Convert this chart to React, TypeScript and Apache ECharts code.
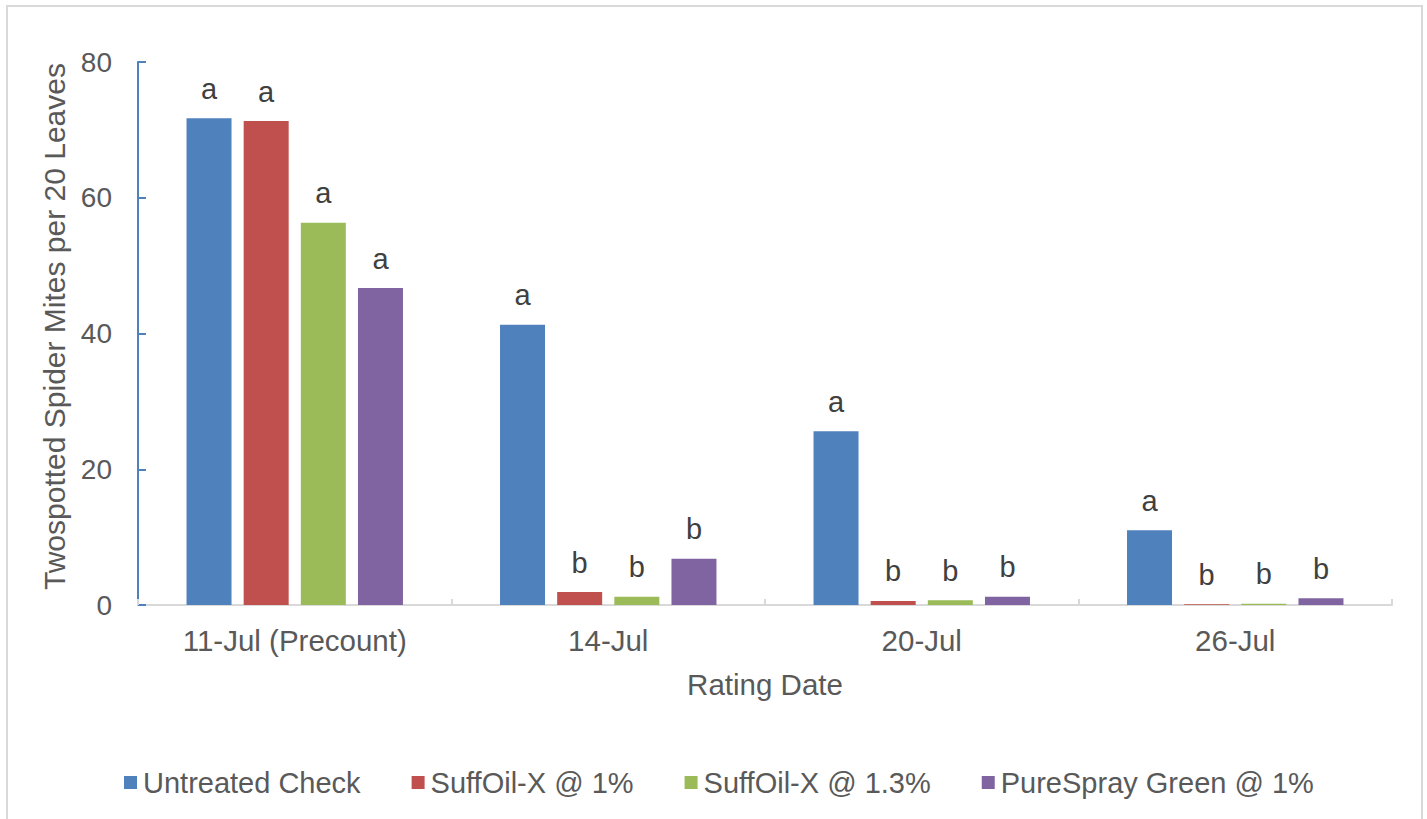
import React, { useEffect, useRef } from "react";
import * as echarts from "echarts";

const categories = ["11-Jul (Precount)", "14-Jul", "20-Jul", "26-Jul"];
const seriesNames = ["Untreated Check", "SuffOil-X @ 1%", "SuffOil-X @ 1.3%", "PureSpray Green @ 1%"];
const untreated = [71.7, 41.3, 25.6, 11.0];
const suff1 = [71.3, 1.9, 0.6, 0.1];
const suff13 = [56.3, 1.2, 0.7, 0.2];
const pure = [46.7, 6.8, 1.2, 1.0];
const lettersUntreated = ["a", "a", "a", "a"];
const lettersSuff1 = ["a", "b", "b", "b"];
const lettersSuff13 = ["a", "b", "b", "b"];
const lettersPure = ["a", "b", "b", "b"];
const colors = ["#4F81BD", "#C0504D", "#9BBB59", "#8064A2"];

const FONT = "'Liberation Sans', Arial, sans-serif";

export default function App() {
  const ref = useRef<HTMLDivElement>(null);
  useEffect(() => {
    if (!ref.current) return;
    const chart = echarts.init(ref.current, null, { renderer: "svg" });
    const values = [untreated, suff1, suff13, pure];
    const letters = [lettersUntreated, lettersSuff1, lettersSuff13, lettersPure];
    chart.setOption({
      animation: false,
      textStyle: { fontFamily: FONT },
      graphic: [
        {
          type: "rect",
          shape: { x: 7, y: 6, width: 1415, height: 900 },
          style: { fill: "none", stroke: "#d9d9d9", lineWidth: 2 },
          silent: true,
          z: -1,
        },
      ],
      grid: { left: 138, right: 35, top: 62, bottom: 214 },
      legend: {
        left: 119,
        top: 763,
        icon: "rect",
        itemWidth: 13,
        itemHeight: 13,
        itemGap: 51,
        textStyle: { fontSize: 29, color: "#595959", fontFamily: FONT, padding: [0, 0, 0, 1] },
        data: seriesNames,
      },
      xAxis: {
        type: "category",
        data: categories,
        name: "Rating Date",
        nameLocation: "middle",
        nameGap: 64,
        nameTextStyle: { fontSize: 29.5, color: "#595959", fontFamily: FONT },
        axisLine: { lineStyle: { color: "#d9d9d9", width: 2 } },
        axisTick: { show: true, inside: true, length: 6, lineStyle: { color: "#d9d9d9", width: 2 } },
        axisLabel: { fontSize: 29.5, color: "#595959", margin: 20, fontFamily: FONT },
      },
      yAxis: {
        type: "value",
        min: 0,
        max: 80,
        interval: 20,
        name: "Twospotted Spider Mites per 20 Leaves",
        nameLocation: "middle",
        nameGap: 66,
        nameTextStyle: { fontSize: 30, color: "#595959", fontFamily: FONT, padding: [0, 0, 0, 14] },
        axisLine: { show: true, lineStyle: { color: "#4F81BD", width: 2 } },
        axisTick: { show: true, inside: true, length: 8, lineStyle: { color: "#4F81BD", width: 2 } },
        axisLabel: { fontSize: 28, color: "#595959", margin: 26, fontFamily: FONT },
        splitLine: { show: false },
      },
      series: seriesNames.map((name, i) => ({
        name,
        type: "bar",
        data: values[i],
        barWidth: 45,
        barGap: "27%",
        itemStyle: { color: colors[i] },
        label: {
          show: true,
          position: "top",
          distance: 15,
          fontSize: 29,
          color: "#404040",
          fontFamily: FONT,
          formatter: (p: any) => letters[i][p.dataIndex],
        },
      })),
    });
    return () => chart.dispose();
  }, []);
  return (
    <div
      ref={ref}
      style={{ position: "absolute", left: 0, top: 0, width: 1427, height: 819, background: "#fff" }}
    />
  );
}
